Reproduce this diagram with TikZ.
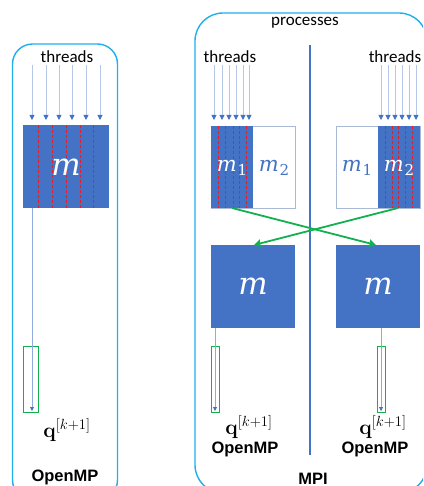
\RequirePackage{fix-cm}
\documentclass[tikz,border=0pt]{standalone}
\usepackage[no-math]{fontspec}
\setmainfont{Carlito}
\newfontfamily\arialb{Liberation Sans}[BoldFont={Liberation Sans Bold}]
\newfontfamily\mserif{DejaVu Serif}
\usetikzlibrary{arrows.meta}
\definecolor{mblue}{HTML}{4472C4}
\definecolor{lblue}{HTML}{B4C7E7}
\definecolor{vblue}{HTML}{8FAADC}
\definecolor{cyanb}{HTML}{1FB0EC}
\definecolor{mgreen}{HTML}{12B04E}
\definecolor{mred}{HTML}{E0202A}
\definecolor{outl}{HTML}{A9B9D6}
\newcommand{\msub}[1]{{\itshape m}\kern1pt\raisebox{-4pt}{\fontsize{15}{15}\selectfont #1}}
\tikzset{
  panel/.style={draw=cyanb, line width=1.4pt},
  bluebox/.style={fill=mblue, draw=none, inner sep=0pt, anchor=north west},
  whitebox/.style={fill=white, draw=outl, line width=1pt, inner sep=0pt, anchor=north west},
  reddash/.style={draw=mred, line width=1pt, dash pattern=on 3pt off 2pt},
  tarrow/.style={draw=lblue, line width=0.8pt, -{Triangle[width=5pt,length=5pt,color=mblue]}},
  varrow/.style={draw=vblue, line width=0.8pt, -{Triangle[width=4pt,length=4pt,color=mblue]}},
  garrow/.style={draw=mgreen, line width=1.8pt, -{Stealth[width=8pt,length=7pt,inset=1pt]}},
  grect/.style={draw=mgreen, line width=1.3pt, fill=none, inner sep=0pt, anchor=north west},
  lbl/.style={font=\fontsize{17}{19}\selectfont, inner sep=0pt},
  bold/.style={font=\arialb\bfseries\fontsize{16.5}{18}\selectfont, inner sep=0pt},
  qlbl/.style={font=\fontsize{21}{23}\selectfont, inner sep=0pt},
  bigm/.style={text=white, font=\mserif\itshape\fontsize{31}{33}\selectfont, inner sep=0pt},
  subm/.style={font=\mserif\fontsize{21}{23}\selectfont, inner sep=0pt},
}
\begin{document}
\begin{tikzpicture}[x=1pt,y=-1pt]
\useasboundingbox (0,0) rectangle (423,486);
\clip (0,0) rectangle (423,486);

% panels
\draw[panel, rounded corners=20pt] (12.5,44) rectangle (117.5,500);
\draw[panel, rounded corners=28pt] (195,13) rectangle (427,493);

% ---------- left panel (OpenMP) ----------
\node[lbl] (thL) at (67,57) {threads};
\node[bluebox, minimum width=86pt, minimum height=83pt] (M) at (23,125) {};
\foreach \x in {38,52,66,80,93} \draw[reddash] (\x,125) -- (\x,208);
\node[bigm] (mL) at (66,167) {m};
\foreach \x [count=\i] in {32,46,59,72,86,100} {
  \coordinate (a\i) at (\x,65);
  \coordinate (b\i) at (\x,120);
  \draw[tarrow] (a\i) -- (b\i);
}
\node[grect, minimum width=15pt, minimum height=66pt] (gL) at (23,346) {};
\coordinate (sL) at (32,208);
\coordinate (eL) at (32,411);
\draw[varrow] (sL) -- (eL);
\node[qlbl] (qL) at (67,430) {$\mathbf{q}^{[k+1]}$};
\node[bold] (ompL) at (65,477) {OpenMP};

% ---------- right panel (MPI) ----------
\node[lbl] (proc) at (305,23) {processes};
\coordinate (divT) at (310,45);
\coordinate (divB) at (310,455);
\draw[mblue, line width=1.2pt] (divT) -- (divB);

\node[lbl] (thA) at (230,57) {threads};
\node[lbl] (thB) at (395,57) {threads};

% top boxes
\node[whitebox, minimum width=84pt, minimum height=82pt] (P1) at (211,126) {};
\node[bluebox, minimum width=42pt, minimum height=82pt] (P1b) at (211,126) {};
\node[whitebox, minimum width=84pt, minimum height=82pt] (P2) at (336,126) {};
\node[bluebox, minimum width=42pt, minimum height=82pt] (P2b) at (378,126) {};
\foreach \x in {218,225,233,239,246} \draw[reddash] (\x,126) -- (\x,208);
\foreach \x in {385,392,398,405,412} \draw[reddash] (\x,126) -- (\x,208);
\node[subm, text=white] (m11) at (232,168) {\msub{1}};
\node[subm, text=mblue] (m12) at (274,168) {\msub{2}};
\node[subm, text=mblue] (m21) at (357,168) {\msub{1}};
\node[subm, text=white] (m22) at (399,168) {\msub{2}};

\foreach \x [count=\i] in {214,222,229,236,243,249} {
  \coordinate (c\i) at (\x,65);
  \coordinate (d\i) at (\x,120);
  \draw[tarrow] (c\i) -- (d\i);
}
\foreach \x [count=\i] in {381,388,395,402,409,416} {
  \coordinate (e\i) at (\x,65);
  \coordinate (f\i) at (\x,120);
  \draw[tarrow] (e\i) -- (f\i);
}

% bottom boxes
\node[bluebox, minimum width=84pt, minimum height=83pt] (Q1) at (211,245) {};
\node[bluebox, minimum width=84pt, minimum height=83pt] (Q2) at (336,245) {};
\node[bigm] (mQ1) at (253,286) {m};
\node[bigm] (mQ2) at (378,286) {m};

% cross arrows
\coordinate (x1s) at (232,208);
\coordinate (x1e) at (376,245);
\coordinate (x2s) at (398,208);
\coordinate (x2e) at (254,245);
\draw[garrow] (x1s) -- (x1e);
\draw[garrow] (x2s) -- (x2e);

% q vectors
\node[grect, minimum width=8pt, minimum height=66pt] (gA) at (211,346) {};
\node[grect, minimum width=8pt, minimum height=66pt] (gB) at (377,346) {};
\coordinate (sA) at (215,328);
\coordinate (eA) at (215,411);
\coordinate (sB) at (381,328);
\coordinate (eB) at (381,411);
\draw[varrow] (sA) -- (eA);
\draw[varrow] (sB) -- (eB);

\node[qlbl] (qA) at (249,427) {$\mathbf{q}^{[k+1]}$};
\node[qlbl] (qB) at (383,427) {$\mathbf{q}^{[k+1]}$};
\node[bold] (ompA) at (245,449) {OpenMP};
\node[bold] (ompB) at (375,449) {OpenMP};
\node[bold] (mpi) at (313,479) {MPI};
\end{tikzpicture}
\end{document}
